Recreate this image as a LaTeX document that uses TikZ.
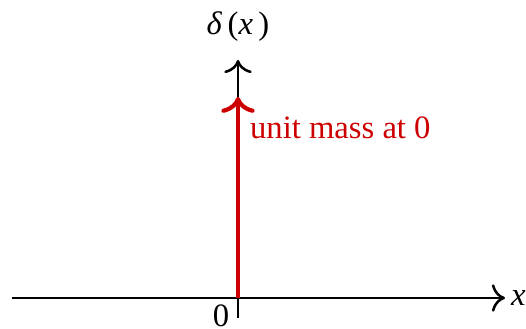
\documentclass[tikz,border=0pt]{standalone}
\usepackage{fontspec}
\setmainfont{Liberation Serif}
\usetikzlibrary{positioning,arrows.meta}

\begin{document}
\begin{tikzpicture}[
    x=0.0125cm, y=-0.0125cm,
    ax/.style={-{To[scale=1.3]}, line width=0.9pt, black},
    mass/.style={-{To[scale=1.15]}, line width=1.5pt, red!80!black},
    tick/.style={line width=0.9pt, black},
    lbl/.style={font=\fontsize{11.6}{14}\selectfont},
    masslbl/.style={font=\fontsize{11.6}{14}\selectfont, text=red!80!black},
]
\useasboundingbox (0,0) rectangle (526,329);
% axes
\coordinate (xmin) at (12,298);
\coordinate (xmax) at (505,298);
\coordinate (orig) at (238,298);
\coordinate (ytop) at (238,60);
\coordinate (mtop) at (238,97);
\coordinate (tickend) at (238,318);
\draw[ax] (xmin) -- (xmax);
\draw[ax] (orig) -- (ytop);
\draw[tick] (orig) -- (tickend);
\node[lbl, anchor=west, inner sep=2pt] (xlbl) at (xmax) {\textit{x}};
\node[lbl, above=3pt of ytop] (ylbl) {\textit{δ}\,(\textit{x}\,)};
\node[lbl, inner sep=0pt, anchor=base] (zero) at (221,327) {0};
% point mass
\draw[mass] (orig) -- (mtop);
\node[masslbl, anchor=west, inner sep=2pt] (mlbl) at (244,128) {unit mass at 0};
\end{tikzpicture}
\end{document}
